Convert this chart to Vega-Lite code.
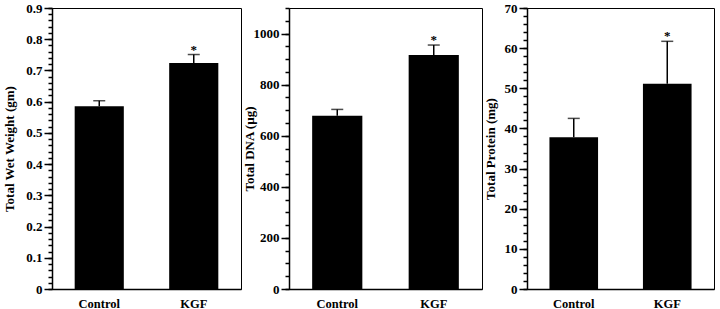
{
  "$schema": "https://vega.github.io/schema/vega-lite/v6.json",
  "background": "white",
  "padding": {"left": 3, "top": 1, "right": 4, "bottom": 2},
  "spacing": 0,
  "datasets": {
    "wet": [
      {"group": "Control", "mean": 0.585, "upper": 0.603, "sig": ""},
      {"group": "KGF", "mean": 0.724, "upper": 0.751, "sig": "*"}
    ],
    "dna": [
      {"group": "Control", "mean": 678, "upper": 703, "sig": ""},
      {"group": "KGF", "mean": 916, "upper": 955, "sig": "*"}
    ],
    "protein": [
      {"group": "Control", "mean": 37.8, "upper": 42.5, "sig": ""},
      {"group": "KGF", "mean": 51.1, "upper": 61.7, "sig": "*"}
    ]
  },
  "config": {
    "view": {"stroke": "black", "strokeWidth": 1},
    "axis": {
      "labelFont": "Liberation Serif", "labelFontWeight": "bold", "labelFontSize": 13, "labelColor": "black",
      "titleFont": "Liberation Serif", "titleFontWeight": "bold", "titleFontSize": 13, "titleColor": "black",
      "domainColor": "black", "tickColor": "black", "grid": false, "domainWidth": 1.5, "tickWidth": 1.5
    }
  },
  "hconcat": [
    {
      "width": 189, "height": 281,
      "data": {"name": "wet"},
      "encoding": {
        "x": {"field": "group", "type": "nominal", "sort": ["Control", "KGF"],
          "scale": {"paddingInner": 0.48, "paddingOuter": 0.24},
          "axis": {"title": null, "labelAngle": 0, "ticks": false, "tickSize": 0, "labelPadding": 8, "labelFontSize": 12.5}}
      },
      "layer": [
        {"mark": {"type": "bar", "color": "black"},
          "encoding": {"y": {"field": "mean", "type": "quantitative", "scale": {"domain": [0, 0.9], "nice": false},
            "axis": {"title": "Total Wet Weight (gm)", "values": [0, 0.1, 0.2, 0.3, 0.4, 0.5, 0.6, 0.7, 0.8, 0.9], "format": "~g", "tickSize": 8, "labelPadding": 2, "titlePadding": 9}}}},
        {"mark": {"type": "rule", "color": "black", "strokeWidth": 1.5},
          "encoding": {"y": {"field": "mean", "type": "quantitative",
            "axis": {"orient": "left", "title": null, "labels": false, "domain": false, "tickSize": 4,
              "values": [0, 0.02, 0.04, 0.06, 0.08, 0.1, 0.12, 0.14, 0.16, 0.18, 0.2, 0.22, 0.24, 0.26, 0.28, 0.3, 0.32, 0.34, 0.36, 0.38, 0.4, 0.42, 0.44, 0.46, 0.48, 0.5, 0.52, 0.54, 0.56, 0.58, 0.6, 0.62, 0.64, 0.66, 0.68, 0.7, 0.72, 0.74, 0.76, 0.78, 0.8, 0.82, 0.84, 0.86, 0.88, 0.9]}},
            "y2": {"field": "upper"}}},
        {"mark": {"type": "tick", "color": "black", "thickness": 1.5, "size": 12},
          "encoding": {"y": {"field": "upper", "type": "quantitative", "axis": null}}},
        {"mark": {"type": "text", "font": "Liberation Serif", "fontWeight": "bold", "fontSize": 13, "baseline": "alphabetic", "dy": -1, "color": "black"},
          "encoding": {"y": {"field": "upper", "type": "quantitative", "axis": null}, "text": {"field": "sig"}}}
      ],
      "resolve": {"axis": {"y": "independent"}}
    },
    {
      "width": 193, "height": 281,
      "data": {"name": "dna"},
      "encoding": {
        "x": {"field": "group", "type": "nominal", "sort": ["Control", "KGF"],
          "scale": {"paddingInner": 0.48, "paddingOuter": 0.24},
          "axis": {"title": null, "labelAngle": 0, "ticks": false, "tickSize": 0, "labelPadding": 8, "labelFontSize": 12.5}}
      },
      "layer": [
        {"mark": {"type": "bar", "color": "black"},
          "encoding": {"y": {"field": "mean", "type": "quantitative", "scale": {"domain": [0, 1100], "nice": false},
            "axis": {"title": "Total DNA (µg)", "values": [0, 200, 400, 600, 800, 1000], "format": "d", "tickSize": 8, "labelPadding": 2, "titlePadding": -3}}}},
        {"mark": {"type": "rule", "color": "black", "strokeWidth": 1.5},
          "encoding": {"y": {"field": "mean", "type": "quantitative",
            "axis": {"orient": "left", "title": null, "labels": false, "domain": false, "tickSize": 4,
              "values": [0, 50, 100, 150, 200, 250, 300, 350, 400, 450, 500, 550, 600, 650, 700, 750, 800, 850, 900, 950, 1000, 1050, 1100]}},
            "y2": {"field": "upper"}}},
        {"mark": {"type": "tick", "color": "black", "thickness": 1.5, "size": 12},
          "encoding": {"y": {"field": "upper", "type": "quantitative", "axis": null}}},
        {"mark": {"type": "text", "font": "Liberation Serif", "fontWeight": "bold", "fontSize": 13, "baseline": "alphabetic", "dy": -1, "color": "black"},
          "encoding": {"y": {"field": "upper", "type": "quantitative", "axis": null}, "text": {"field": "sig"}}}
      ],
      "resolve": {"axis": {"y": "independent"}}
    },
    {
      "width": 187, "height": 281,
      "data": {"name": "protein"},
      "encoding": {
        "x": {"field": "group", "type": "nominal", "sort": ["Control", "KGF"],
          "scale": {"paddingInner": 0.48, "paddingOuter": 0.24},
          "axis": {"title": null, "labelAngle": 0, "ticks": false, "tickSize": 0, "labelPadding": 8, "labelFontSize": 12.5}}
      },
      "layer": [
        {"mark": {"type": "bar", "color": "black"},
          "encoding": {"y": {"field": "mean", "type": "quantitative", "scale": {"domain": [0, 70], "nice": false},
            "axis": {"title": "Total Protein (mg)", "values": [0, 10, 20, 30, 40, 50, 60, 70], "format": "d", "tickSize": 8, "labelPadding": 2, "titlePadding": 7}}}},
        {"mark": {"type": "rule", "color": "black", "strokeWidth": 1.5},
          "encoding": {"y": {"field": "mean", "type": "quantitative",
            "axis": {"orient": "left", "title": null, "labels": false, "domain": false, "tickSize": 4,
              "values": [0, 2, 4, 6, 8, 10, 12, 14, 16, 18, 20, 22, 24, 26, 28, 30, 32, 34, 36, 38, 40, 42, 44, 46, 48, 50, 52, 54, 56, 58, 60, 62, 64, 66, 68, 70]}},
            "y2": {"field": "upper"}}},
        {"mark": {"type": "tick", "color": "black", "thickness": 1.5, "size": 12},
          "encoding": {"y": {"field": "upper", "type": "quantitative", "axis": null}}},
        {"mark": {"type": "text", "font": "Liberation Serif", "fontWeight": "bold", "fontSize": 13, "baseline": "alphabetic", "dy": -1, "color": "black"},
          "encoding": {"y": {"field": "upper", "type": "quantitative", "axis": null}, "text": {"field": "sig"}}}
      ],
      "resolve": {"axis": {"y": "independent"}}
    }
  ]
}
